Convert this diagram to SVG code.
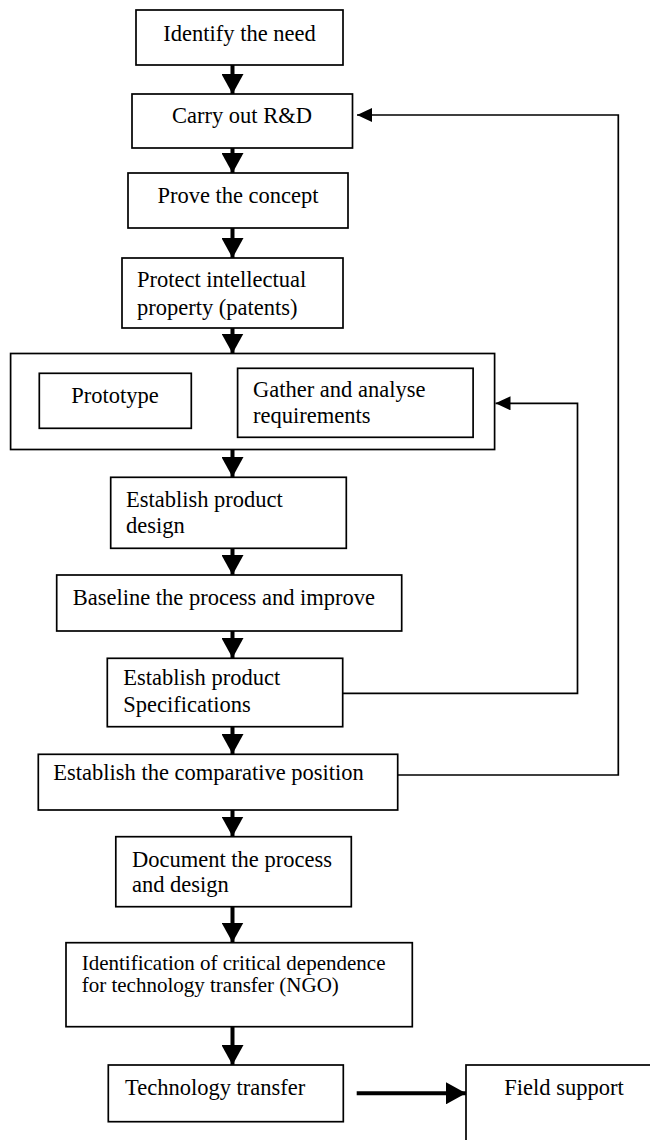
<svg xmlns="http://www.w3.org/2000/svg" width="650" height="1140" viewBox="0 0 650 1140">
<style>
.box{fill:#fff;stroke:#000;stroke-width:1.7}
.t{font-family:"Liberation Serif","Times New Roman",serif;font-size:22.5px;fill:#000}
.c{text-anchor:middle}
.sm{font-size:21px}
.thick{stroke:#000;stroke-width:4;fill:none}
.thin{stroke:#000;stroke-width:1.7;fill:none}
</style>
<defs>
<marker id="big" markerUnits="userSpaceOnUse" markerWidth="20" markerHeight="22" refX="20" refY="11" orient="auto">
<path d="M0,0 L20,11 L0,22 Z" fill="#000"/>
</marker>
<marker id="small" markerUnits="userSpaceOnUse" markerWidth="15" markerHeight="14" refX="15" refY="7" orient="auto">
<path d="M0,0 L15,7 L0,14 Z" fill="#000"/>
</marker>
</defs>
<rect width="650" height="1140" fill="#fff"/>

<g id="connectors">
<line class="thick" x1="232.5" y1="65" x2="232.5" y2="94" marker-end="url(#big)"/>
<line class="thick" x1="232.5" y1="148" x2="232.5" y2="173" marker-end="url(#big)"/>
<line class="thick" x1="232.5" y1="228" x2="232.5" y2="258" marker-end="url(#big)"/>
<line class="thick" x1="232.5" y1="328" x2="232.5" y2="353.5" marker-end="url(#big)"/>
<line class="thick" x1="232.5" y1="449.5" x2="232.5" y2="477" marker-end="url(#big)"/>
<line class="thick" x1="232.5" y1="548" x2="232.5" y2="575" marker-end="url(#big)"/>
<line class="thick" x1="232.5" y1="631" x2="232.5" y2="658" marker-end="url(#big)"/>
<line class="thick" x1="232.5" y1="726.7" x2="232.5" y2="754" marker-end="url(#big)"/>
<line class="thick" x1="232.5" y1="810" x2="232.5" y2="836.5" marker-end="url(#big)"/>
<line class="thick" x1="232.5" y1="906.7" x2="232.5" y2="942.5" marker-end="url(#big)"/>
<line class="thick" x1="232.5" y1="1026.7" x2="232.5" y2="1065" marker-end="url(#big)" stroke-width="5"/>
<line class="thick" x1="356.7" y1="1093.3" x2="466" y2="1093.3" marker-end="url(#big)" stroke-width="4.5"/>
<line class="thin" x1="191" y1="383.3" x2="234" y2="383.3" marker-end="url(#small)"/>
<line class="thin" x1="232" y1="410" x2="191.5" y2="410" marker-end="url(#small)"/>
<polyline class="thin" points="342.7,693.3 577.5,693.3 577.5,403.3 495.5,403.3" marker-end="url(#small)"/>
<polyline class="thin" points="397.7,775 618.3,775 618.3,115 357,115" marker-end="url(#small)"/>
</g>

<g id="identify">
<rect class="box" x="136" y="10" width="207" height="55"/>
<text class="t c" x="239.5" y="41">Identify the need</text>
</g>
<g id="rnd">
<rect class="box" x="132" y="94" width="220.5" height="54"/>
<text class="t c" x="242" y="123">Carry out R&amp;D</text>
</g>
<g id="prove">
<rect class="box" x="128" y="173" width="220" height="55"/>
<text class="t c" x="238" y="203">Prove the concept</text>
</g>
<g id="protect">
<rect class="box" x="122" y="258" width="221" height="70"/>
<text class="t" x="137" y="287">Protect intellectual</text>
<text class="t" x="137" y="315">property (patents)</text>
</g>
<g id="prototype-stage">
<rect class="box" x="10.6" y="353.5" width="484" height="96"/>
</g>
<g id="prototype">
<rect class="box" x="39.3" y="373.3" width="152" height="55"/>
<text class="t c" x="115" y="403">Prototype</text>
</g>
<g id="gather">
<rect class="box" x="237.6" y="368.3" width="235.5" height="69"/>
<text class="t" x="253" y="396.7">Gather and analyse</text>
<text class="t" x="253" y="423.3">requirements</text>
</g>
<g id="design">
<rect class="box" x="110.7" y="477.3" width="235.6" height="71"/>
<text class="t" x="126" y="506.7">Establish product</text>
<text class="t" x="126" y="533.3">design</text>
</g>
<g id="baseline">
<rect class="box" x="56.7" y="575" width="345" height="56"/>
<text class="t" x="72.7" y="605">Baseline the process and improve</text>
</g>
<g id="specs">
<rect class="box" x="107.3" y="658.3" width="235.4" height="68.4"/>
<text class="t" x="123.3" y="685">Establish product</text>
<text class="t" x="123.3" y="711.7">Specifications</text>
</g>
<g id="comparative">
<rect class="box" x="38.3" y="754.3" width="359.4" height="55.7"/>
<text class="t" x="53.3" y="780">Establish the comparative position</text>
</g>
<g id="document">
<rect class="box" x="115.8" y="836.7" width="235.5" height="70"/>
<text class="t" x="132" y="866.7">Document the process</text>
<text class="t" x="132" y="891.7">and design</text>
</g>
<g id="identification">
<rect class="box" x="66" y="942.7" width="346.3" height="84"/>
<text class="t sm" x="81.7" y="970">Identification of critical dependence</text>
<text class="t sm" x="81.7" y="992">for technology transfer (NGO)</text>
</g>
<g id="transfer">
<rect class="box" x="108.3" y="1065" width="235" height="56.7"/>
<text class="t" x="125" y="1095">Technology transfer</text>
</g>
<g id="field">
<rect class="box" x="466" y="1065" width="200" height="100"/>
<text class="t c" x="564" y="1095">Field support</text>
</g>
</svg>
